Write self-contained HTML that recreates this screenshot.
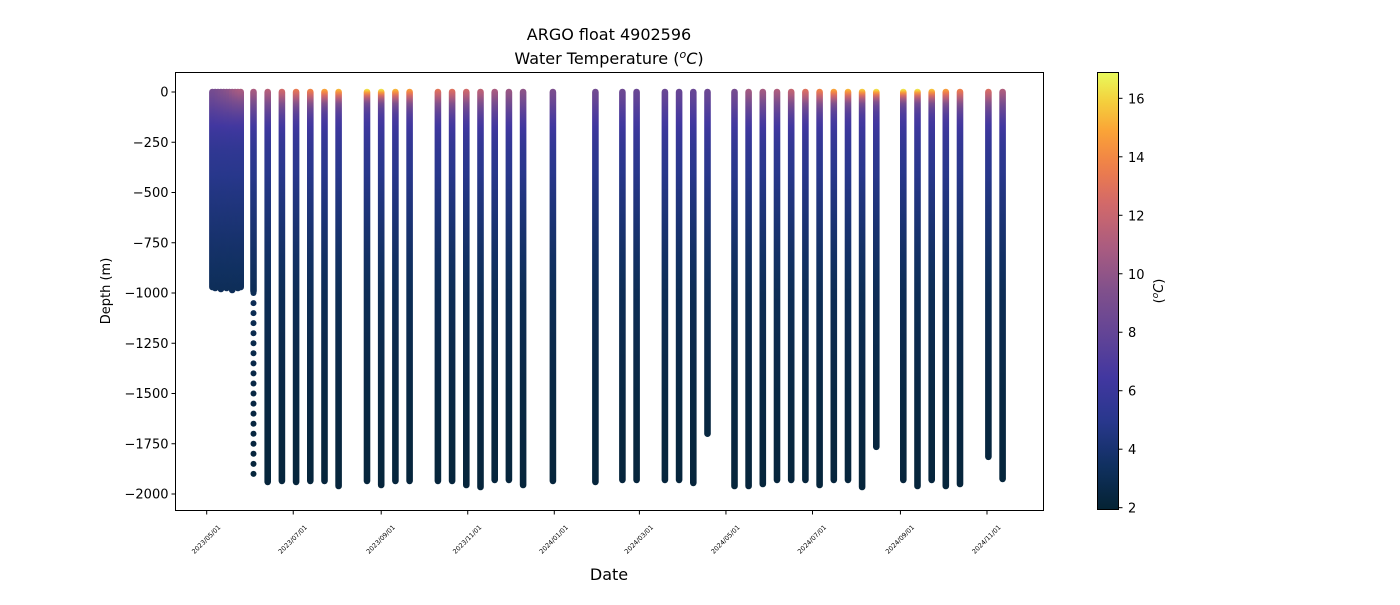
<!DOCTYPE html>
<html><head><meta charset="utf-8"><style>
html,body{margin:0;padding:0;background:#fff;}
svg text{font-family:"DejaVu Sans","Liberation Sans",sans-serif;fill:#000;}
</style></head><body>
<svg id="chart" width="1400" height="600" viewBox="0 0 1400 600" xmlns="http://www.w3.org/2000/svg">
<defs id="defs"></defs>
<text x="609" y="40" font-size="16" text-anchor="middle">ARGO float 4902596</text>
<text x="609" y="64" font-size="16" text-anchor="middle">Water Temperature (<tspan font-style="italic" font-size="11" dy="-6">o</tspan><tspan font-style="italic" dy="6">C</tspan>)</text>
<g id="plot"></g>
<g id="axes"></g>
<g id="cbar"></g>
<text x="609" y="580" font-size="16" text-anchor="middle">Date</text>
<text transform="translate(110,291) rotate(-90)" font-size="13" text-anchor="middle">Depth (m)</text>
<text transform="translate(1163,291) rotate(-90)" font-size="13" text-anchor="middle">(<tspan font-style="italic" font-size="9" dy="-5">o</tspan><tspan font-style="italic" dy="5">C</tspan>)</text>
</svg>
<script>
// ---- data ----
const profileDays = [4,6,8,10,12,14,16,18,20,22,24,33,43,53,63,73,83,93,113,123,133,143,163,173,183,193,203,213,223,244,274,293,303,323,333,343,353,372,382,392,402,412,422,432,442,452,462,472,491,501,511,521,531,551,561];
const profileMaxDepth = [970,975,965,980,970,975,965,985,970,975,970,1940,1940,1935,1940,1935,1935,1960,1935,1955,1935,1935,1935,1935,1955,1965,1930,1930,1955,1935,1940,1930,1930,1930,1930,1945,1700,1960,1960,1950,1930,1930,1930,1955,1930,1930,1965,1765,1930,1960,1930,1960,1950,1815,1925];
const profileSurfaceTemp = [9,9,9.2,9.4,9.6,9.8,10,10.3,10.6,10.8,11,11,11.5,12.5,13.5,14,15,15.5,16.5,16.5,15.5,14.8,13.2,13,12.5,11.8,11,10.5,10,9.3,8.8,8.6,8.4,8.4,8.3,8.3,8.5,9,10.8,10.8,11.2,12,13,14,15,15.5,16,16.5,16.6,16.6,15.8,14.8,13.8,12.8,11.2];
const baseDepth = [0,50,100,200,300,500,750,1000,1500,2000];
const baseTemp = [8.3,7.8,7.2,6.1,5.4,4.6,3.8,3.1,2.5,2.2];
const yTicks = [0,-250,-500,-750,-1000,-1250,-1500,-1750,-2000];
const xTickDays = [0,61,123,184,245,305,366,427,489,550];
const xTickLabels = ["2023/05/01","2023/07/01","2023/09/01","2023/11/01","2024/01/01","2024/03/01","2024/05/01","2024/07/01","2024/09/01","2024/11/01"];
const cbTicks = [2,4,6,8,10,12,14,16];

// ---- scales ----
const L=175.5,R=1043.5,T=72.5,B=510.5;
const xS = d => 206.7 + d*1.4187;
const yS = v => 92 + (-v)*0.201;
const cmin=1.955,cmax=16.9;
const cbTop=72,cbBot=509;
const cS = t => cbBot - (t-cmin)/(cmax-cmin)*(cbBot-cbTop);

const stops=[[0,[4,35,51]],[0.1,[16,48,96]],[0.2,[40,55,140]],[0.3,[65,55,160]],[0.4,[98,68,150]],[0.5,[128,80,140]],[0.6,[170,92,128]],[0.7,[210,105,105]],[0.78,[238,125,75]],[0.86,[250,160,55]],[0.93,[245,205,60]],[1,[232,250,91]]];
function cmap(t){
  let f=(t-cmin)/(cmax-cmin); f=Math.max(0,Math.min(1,f));
  for(let i=1;i<stops.length;i++){ if(f<=stops[i][0]){const a=stops[i-1],b=stops[i];const k=(f-a[0])/(b[0]-a[0]);
    return 'rgb('+a[1].map((c,j)=>Math.round(c+(b[1][j]-c)*k)).join(',')+')';}}
  return 'rgb(232,250,91)';
}
function baseT(z){
  for(let i=1;i<baseDepth.length;i++){ if(z<=baseDepth[i]){const k=(z-baseDepth[i-1])/(baseDepth[i]-baseDepth[i-1]);return baseTemp[i-1]+(baseTemp[i]-baseTemp[i-1])*k;}}
  return baseTemp[baseTemp.length-1];
}
const NS='http://www.w3.org/2000/svg';
function el(tag,attrs,parent){const e=document.createElementNS(NS,tag);for(const k in attrs)e.setAttribute(k,attrs[k]);parent.appendChild(e);return e;}
const defs=document.getElementById('defs');
const plot=document.getElementById('plot');
const axes=document.getElementById('axes');
const cbar=document.getElementById('cbar');

profileDays.forEach((d,i)=>{
  const x=xS(d), T0=profileSurfaceTemp[i], maxD=profileMaxDepth[i];
  const sparse = (i===11);
  const contEnd = sparse ? 990 : maxD;
  const s = 45 + (17-T0)*9;
  const g=el('linearGradient',{id:'g'+i,x1:0,y1:0,x2:0,y2:1},defs);
  const n=34;
  for(let k=0;k<=n;k++){
    const z=contEnd*Math.pow(k/n,1.9);
    const t=baseT(z)+(T0-baseTemp[0])*Math.exp(-Math.pow(z/s,1.5));
    el('stop',{offset:(z/contEnd).toFixed(4),'stop-color':cmap(t)},g);
  }
  const y0=yS(0)-3.3,y1=yS(-contEnd)+3.3;
  const r=el('rect',{x:(x-3.3).toFixed(1),y:y0.toFixed(1),width:6.6,height:(y1-y0).toFixed(1),rx:3.3,fill:'url(#g'+i+')'},plot);
  
  
  if(sparse){
    for(let z=1000;z<=maxD;z+=50){
      const c=el('circle',{cx:x.toFixed(1),cy:yS(-z).toFixed(1),r:3,fill:cmap(baseT(z))},plot);
      
      
    }
  }
});

const fr=el('rect',{x:L,y:T,width:R-L,height:B-T,fill:'none',stroke:'#000','stroke-width':1},axes);


yTicks.forEach(v=>{
  const y=yS(v);
  el('line',{x1:L-4,x2:L,y1:y,y2:y,stroke:'#000'},axes);
  const t=el('text',{x:L-7,y:y+4.5,'font-size':13,'text-anchor':'end'},axes);
  t.textContent=v<0?'\u2212'+(-v):String(v);
  
  
});
xTickDays.forEach((d,i)=>{
  const x=xS(d);
  el('line',{x1:x,x2:x,y1:B,y2:B+4,stroke:'#000'},axes);
  const t=el('text',{transform:'translate('+(x+1)+',541) rotate(-45)','font-size':6.5,'text-anchor':'middle'},axes);
  t.textContent=xTickLabels[i];
  
  
});

const cg=el('linearGradient',{id:'cbg',x1:0,y1:1,x2:0,y2:0},defs);
for(let k=0;k<=30;k++){const t=cmin+(cmax-cmin)*k/30;el('stop',{offset:k/30,'stop-color':cmap(t)},cg);}
const cr=el('rect',{x:1097.5,y:cbTop+0.5,width:21,height:cbBot-cbTop,fill:'url(#cbg)',stroke:'#000','stroke-width':1},cbar);


cbTicks.forEach(v=>{
  const y=cS(v);
  el('line',{x1:1118.5,x2:1122.5,y1:y,y2:y,stroke:'#000'},cbar);
  const t=el('text',{x:1128,y:y+5,'font-size':13},cbar);
  t.textContent=String(v);
  
  
});
</script>
</body></html>
